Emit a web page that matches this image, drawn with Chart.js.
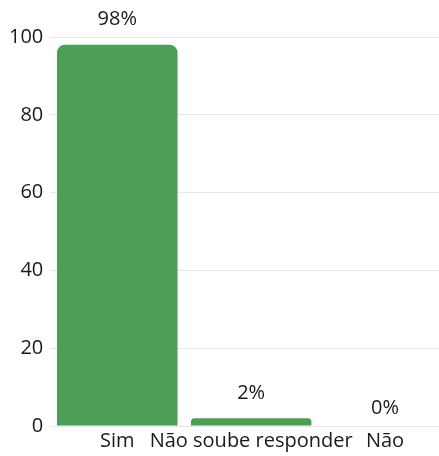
<!DOCTYPE html>
<html>
<head>
<meta charset="utf-8">
<script src="https://cdn.jsdelivr.net/npm/chart.js@4"></script>
<style>
  html, body { margin: 0; padding: 0; background: #fff; overflow: hidden; }
  #wrap { width: 452px; height: 456px; }
</style>
</head>
<body>
<div id="wrap"><canvas id="barChart"></canvas></div>
<script>
const categorias = ['Sim', 'Não soube responder', 'Não'];
const valores = [98, 2, 0];
const rotulos = ['98%', '2%', '0%'];
const ticksY = [0, 20, 40, 60, 80, 100];

window.onload = main;

function main(){
    barChart(categorias, valores);
}

// escreve o percentual acima de cada barra
const rotuloPlugin = {
  id: 'rotulos',
  afterDatasetsDraw(chart){
    const ctx = chart.ctx;
    const meta = chart.getDatasetMeta(0);
    ctx.save();
    ctx.font = '20px "Open Sans"';
    ctx.fillStyle = '#1a1a1a';
    ctx.textAlign = 'center';
    ctx.textBaseline = 'middle';
    meta.data.forEach((bar, i) => {
      const desloc = valores[i] > 0 ? 25 : 18;
      ctx.fillText(rotulos[i], bar.x, bar.y - desloc);
    });
    ctx.restore();
  }
};

function barChart(labels, data){
    Chart.defaults.font.family = '"Open Sans"';
    Chart.defaults.font.size = 20;
    Chart.defaults.color = '#1a1a1a';

    var ctx = document.getElementById('barChart').getContext('2d');
    new Chart(ctx, {
      type: 'bar',
      data: {
        labels: labels,
        datasets: [{
          data: data,
          backgroundColor: '#4d9e54',
          borderRadius: { topLeft: 8, topRight: 8 },
          borderSkipped: 'bottom',
          barPercentage: 0.9,
          categoryPercentage: 1
        }]
      },
      options: {
        responsive: true,
        maintainAspectRatio: false,
        animation: false,
        layout: { padding: { top: 37, left: 2, right: 0, bottom: 0 } },
        plugins: { legend: { display: false }, tooltip: { enabled: false } },
        scales: {
          x: {
            grid: { display: false, drawTicks: false },
            border: { display: false },
            ticks: { padding: 3, maxRotation: 0, autoSkip: false }
          },
          y: {
            min: 0,
            max: 100,
            afterBuildTicks: axis => { axis.ticks = ticksY.map(v => ({ value: v })); },
            grid: { color: '#e6e6e6', drawTicks: false },
            border: { display: false },
            ticks: { padding: 7 }
          }
        }
      },
      plugins: [rotuloPlugin]
    });
}
</script>
</body>
</html>
